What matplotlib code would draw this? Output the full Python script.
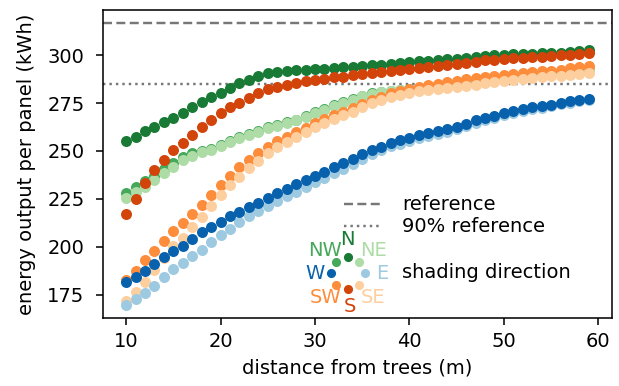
import matplotlib
matplotlib.use("Agg")
import matplotlib.pyplot as plt

# ---------------- data ----------------
distance = list(range(10, 60))

energy_N = [255.4, 257.3, 260.4, 262.7, 264.9, 267.3, 269.7, 272.8, 275.6, 277.9,
            280.3, 282.9, 285.3, 287.2, 289.3, 290.5, 291.2, 291.7, 292.0, 292.4,
            292.5, 292.9, 293.3, 293.6, 293.9, 294.1, 294.6, 294.8, 295.3, 295.8,
            296.2, 296.7, 297.0, 297.4, 297.7, 298.1, 298.6, 299.2, 299.6, 299.9,
            300.1, 300.4, 300.7, 300.8, 301.0, 301.1, 301.3, 301.6, 302.1, 302.8]
energy_S = [217.0, 225.1, 233.1, 240.0, 245.5, 250.4, 254.2, 258.1, 262.4, 265.9,
            269.7, 272.7, 275.2, 277.5, 280.1, 282.2, 283.2, 284.4, 285.5, 286.3,
            287.2, 287.6, 288.4, 288.7, 289.4, 289.9, 290.5, 291.0, 291.5, 292.2,
            292.7, 293.3, 293.9, 294.3, 294.8, 295.2, 295.8, 296.6, 297.2, 297.6,
            297.9, 298.3, 298.6, 298.9, 299.2, 299.5, 299.8, 300.1, 300.5, 301.0]
energy_NW = [228.2, 231.0, 234.3, 237.0, 240.5, 243.8, 246.9, 249.0, 250.0, 251.2,
             252.9, 255.0, 257.5, 258.8, 260.4, 262.4, 263.7, 265.0, 266.4, 268.3,
             270.4, 272.1, 274.0, 275.6, 277.1, 278.9, 280.3, 280.9, 281.5, 281.9,
             282.3, 282.8, 283.3, 283.8, 284.3, 284.9, 285.6, 286.3, 286.9, 287.5,
             288.1, 288.6, 289.1, 289.6, 290.0, 290.5, 291.0, 291.5, 292.1, 292.7]
energy_NE = [225.6, 228.7, 231.3, 234.8, 238.3, 241.7, 245.3, 247.5, 249.5, 250.7,
             252.4, 254.5, 257.0, 258.3, 259.9, 261.9, 263.2, 264.5, 265.9, 267.8,
             269.9, 271.6, 273.5, 275.1, 276.6, 278.4, 279.8, 280.6, 281.2, 281.6,
             282.0, 282.5, 283.0, 283.5, 284.0, 284.6, 285.3, 286.0, 286.6, 287.2,
             287.8, 288.3, 288.8, 289.3, 289.7, 290.2, 290.7, 291.2, 291.8, 292.4]
energy_SW = [182.7, 187.4, 193.1, 198.0, 203.2, 208.4, 212.3, 217.0, 221.8, 227.0,
             232.2, 236.9, 241.5, 245.2, 248.8, 252.2, 255.0, 257.5, 259.8, 262.2,
             264.5, 266.5, 268.5, 270.5, 272.5, 274.5, 276.5, 278.3, 280.0, 281.3,
             282.5, 283.4, 284.2, 285.0, 285.8, 286.7, 287.6, 288.2, 288.7, 289.1,
             289.4, 290.1, 290.5, 291.0, 291.5, 291.9, 292.4, 293.1, 293.9, 294.5]
energy_SE = [172.0, 176.7, 181.7, 188.1, 194.2, 200.6, 204.6, 210.3, 215.8, 221.3,
             227.0, 232.5, 236.5, 240.9, 245.0, 248.7, 252.1, 254.7, 257.3, 259.9,
             262.4, 264.5, 266.6, 268.5, 270.5, 272.8, 274.8, 276.5, 278.0, 279.3,
             280.3, 281.1, 281.8, 282.3, 282.8, 283.3, 283.9, 284.6, 285.3, 285.9,
             286.5, 287.0, 287.6, 288.1, 288.5, 288.9, 289.3, 289.6, 290.1, 290.7]
energy_W = [181.5, 184.3, 187.3, 191.1, 194.7, 197.6, 200.6, 204.0, 207.5, 210.3,
            213.2, 216.0, 218.4, 220.6, 223.0, 225.6, 227.9, 230.0, 232.6, 235.0,
            237.0, 239.0, 241.4, 243.5, 245.8, 248.2, 250.5, 252.3, 254.2, 255.5,
            256.8, 258.1, 259.2, 260.5, 261.4, 262.6, 264.2, 265.9, 267.1, 268.2,
            269.8, 271.0, 272.0, 272.8, 273.4, 274.2, 275.2, 275.8, 276.6, 277.3]
energy_E = [169.5, 172.9, 176.0, 179.5, 184.3, 188.2, 191.5, 195.4, 198.5, 202.3,
            206.1, 209.2, 213.0, 216.2, 218.9, 221.5, 224.1, 226.4, 228.7, 231.2,
            233.6, 235.7, 238.3, 240.8, 243.3, 246.0, 248.4, 250.4, 252.4, 253.8,
            255.2, 256.6, 257.8, 259.1, 260.1, 261.3, 262.9, 264.6, 265.9, 267.0,
            268.6, 269.8, 270.9, 271.8, 272.5, 273.3, 274.4, 275.1, 275.9, 276.7]

reference = 316.6
ref_fraction = 0.9

directions = ["NW", "N", "NE", "SW", "SE", "S", "E", "W"]   # drawing order
series = {"N": energy_N, "NE": energy_NE, "E": energy_E, "SE": energy_SE,
          "S": energy_S, "SW": energy_SW, "W": energy_W, "NW": energy_NW}
colors = {"N": "#187a35", "NW": "#45a85a", "NE": "#aedca6",
          "W": "#0861ad", "E": "#9ecae1",
          "S": "#d2440a", "SW": "#fd8c3b", "SE": "#fdcf9f"}

xticks = [10, 20, 30, 40, 50, 60]
yticks = [175, 200, 225, 250, 275, 300]

# ---------------- figure ----------------
W_PX, H_PX, DPI = 619, 386, 140
fig = plt.figure(figsize=(W_PX / DPI, H_PX / DPI), dpi=DPI)
AX_L, AX_R, AX_T, AX_B = 103, 612, 10, 318
ax = fig.add_axes([AX_L / W_PX, 1 - AX_B / H_PX,
                   (AX_R - AX_L) / W_PX, (AX_B - AX_T) / H_PX])

for d in directions:
    ax.scatter(distance, series[d], s=32, color=colors[d], linewidths=0, zorder=3)

ax.axhline(reference, color="#777777", lw=1.25, ls=(0, (3.7, 1.8)), zorder=2)
ax.axhline(reference * ref_fraction, color="#777777", lw=1.25, ls=":", zorder=2)

ax.set_xlim(7.55, 61.45)
ax.set_ylim(162.9, 323.5)
ax.set_xticks(xticks)
ax.set_yticks(yticks)
ax.tick_params(axis="y", pad=6)
ax.set_xlabel("distance from trees (m)")
ax.set_ylabel("energy output per panel (kWh)", labelpad=6)


# ---------------- hand-built legend ----------------
def px(x, y):
    return ((x - AX_L) / (AX_R - AX_L), (AX_B - y) / (AX_B - AX_T))


tr = ax.transAxes
for ypx, ls in [(204, (0, (3.7, 1.8))), (226, ":")]:
    (x0, y0), (x1, _) = px(344, ypx), px(380, ypx)
    ax.plot([x0, x1], [y0, y0], transform=tr, color="#777777", lw=1.25, ls=ls,
            clip_on=False)
for ypx, lab in [(204, "reference"), (226, "90% reference"), (273, "shading direction")]:
    xx, yy = px(402, ypx)
    ax.text(xx, yy, lab, transform=tr, ha="left", va="center", fontsize=10)

cx, cy = 347.7, 273.3
dot_off = {"N": (0, -16), "NE": (11.3, -11.3), "E": (17, 0), "SE": (11.3, 11.3),
           "S": (0, 16), "SW": (-11.3, 11.3), "W": (-17, 0), "NW": (-11.3, -11.3)}
lab_off = {"N": (0, -34), "NE": (25.5, -23), "E": (35, 0), "SE": (25.5, 24),
           "S": (2, 33), "SW": (-22, 24), "W": (-32.5, 0), "NW": (-23, -23)}
for d in dot_off:
    dx, dy = dot_off[d]
    xx, yy = px(cx + dx, cy + dy)
    ax.scatter([xx], [yy], s=22, color=colors[d], linewidths=0, transform=tr,
               clip_on=False, zorder=4)
    lx, ly = lab_off[d]
    xx, yy = px(cx + lx, cy + ly)
    ax.text(xx, yy, d, transform=tr, ha="center", va="center", fontsize=10,
            color=colors[d])

fig.savefig("out.png", dpi=DPI)
